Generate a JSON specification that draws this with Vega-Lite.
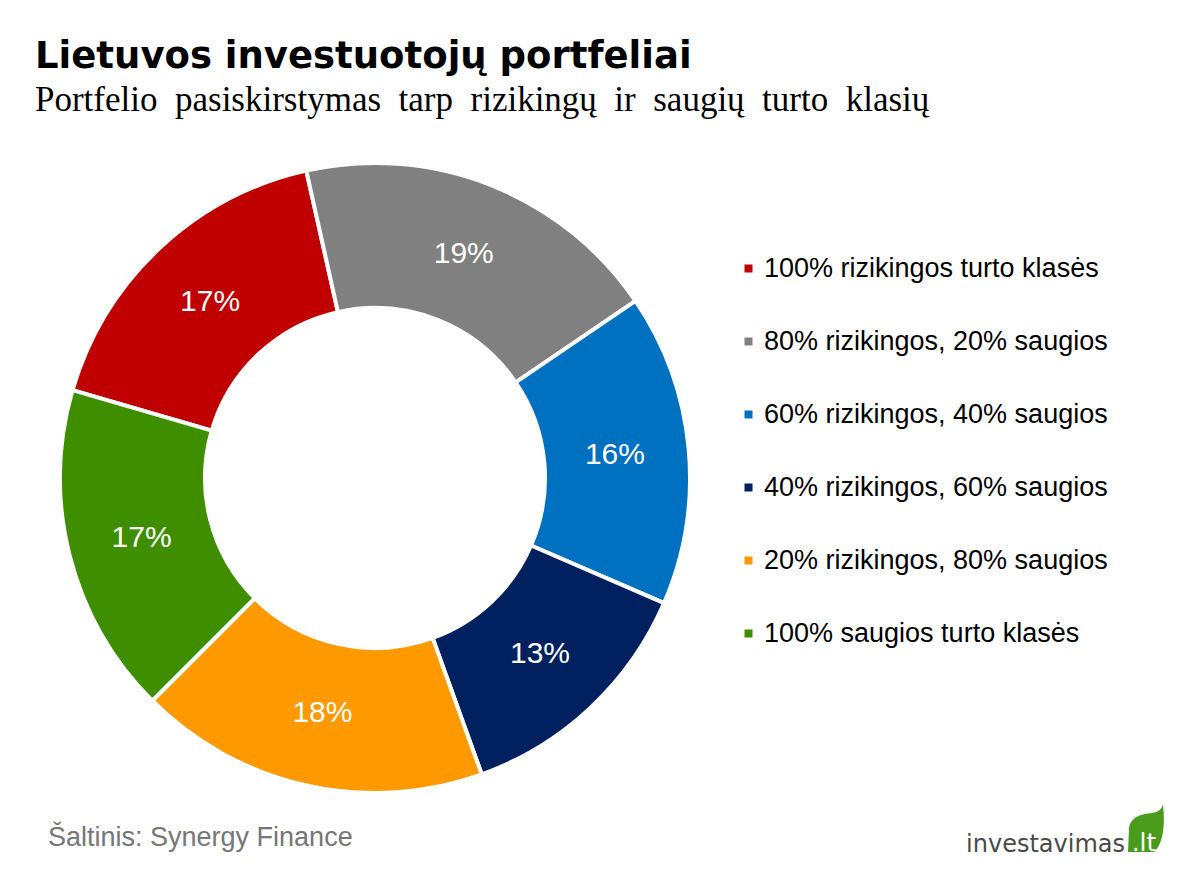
{
  "$schema": "https://vega.github.io/schema/vega-lite/v6.json",
  "width": 750,
  "height": 698,
  "padding": {"left": 0, "top": 38, "right": 0, "bottom": 0},
  "background": "white",
  "title": {
    "text": "Lietuvos investuotojų portfeliai",
    "subtitle": "Portfelio\u00a0 pasiskirstymas\u00a0 tarp\u00a0 rizikingų\u00a0 ir\u00a0 saugių\u00a0 turto\u00a0 klasių",
    "anchor": "start",
    "frame": "group",
    "dx": 35,
    "font": "DejaVu Sans",
    "fontSize": 37,
    "fontWeight": "bold",
    "color": "black",
    "subtitleFont": "Liberation Serif",
    "subtitleFontSize": 35,
    "subtitleColor": "black",
    "subtitlePadding": 7,
    "offset": 10
  },
  "config": {"view": {"stroke": null}},
  "layer": [
    {
      "data": {"values": [
        {"k": "100% rizikingos turto klasės", "v": 17, "o": 1, "lab": "17%"},
        {"k": "80% rizikingos, 20% saugios", "v": 19, "o": 2, "lab": "19%"},
        {"k": "60% rizikingos, 40% saugios", "v": 16, "o": 3, "lab": "16%"},
        {"k": "40% rizikingos, 60% saugios", "v": 13, "o": 4, "lab": "13%"},
        {"k": "20% rizikingos, 80% saugios", "v": 18, "o": 5, "lab": "18%"},
        {"k": "100% saugios turto klasės", "v": 17, "o": 6, "lab": "17%"}
      ]},
      "encoding": {
        "theta": {"field": "v", "type": "quantitative", "stack": true, "scale": {"range": [-1.288, 4.995]}},
        "order": {"field": "o", "type": "quantitative"},
        "color": {
          "field": "k", "type": "nominal",
          "scale": {
            "domain": ["100% rizikingos turto klasės", "80% rizikingos, 20% saugios", "60% rizikingos, 40% saugios", "40% rizikingos, 60% saugios", "20% rizikingos, 80% saugios", "100% saugios turto klasės"],
            "range": ["#C00000", "#808080", "#0070C0", "#002060", "#FF9900", "#3E8E00"]
          },
          "legend": {
            "title": null,
            "orient": "none",
            "legendX": 735,
            "legendY": 126,
            "symbolType": "square",
            "symbolSize": 64,
            "symbolStrokeWidth": 0,
            "labelFont": "Liberation Sans",
            "labelFontSize": 27,
            "labelColor": "black",
            "labelOffset": 2,
            "rowPadding": 45,
            "labelLimit": 500
          }
        }
      },
      "layer": [
        {
          "mark": {"type": "arc", "outerRadius": 315, "innerRadius": 170, "stroke": "white", "strokeWidth": 4}
        },
        {
          "mark": {"type": "text", "radius": 241, "font": "Liberation Sans", "fontSize": 30, "color": "white"},
          "encoding": {"text": {"field": "lab"}, "color": {"value": "white"}}
        }
      ]
    },
    {
      "data": {"values": [{"t": "Šaltinis: Synergy Finance"}]},
      "mark": {"type": "text", "x": 48, "y": 717, "align": "left", "baseline": "alphabetic", "font": "Liberation Sans", "fontSize": 27, "color": "#767676"},
      "encoding": {"text": {"field": "t"}}
    },
    {
      "data": {"values": [{"t": "investavimas"}]},
      "mark": {"type": "text", "x": 1125, "y": 723, "align": "right", "baseline": "alphabetic", "font": "DejaVu Sans", "fontSize": 24, "color": "#4a4a4a"},
      "encoding": {"text": {"field": "t"}}
    },
    {
      "data": {"values": [{"t": ".lt"}]},
      "mark": {"type": "point", "x": 1145, "y": 700, "shape": "M-0.85,1.15 L-0.8,0 C-0.75,-0.6 -0.2,-0.75 0.35,-0.8 C0.7,-0.85 0.85,-1 0.9,-1.25 C1.0,-0.3 0.95,0.7 0.45,1.15 Z", "size": 1600, "filled": true, "color": "#4A9A1C", "opacity": 1},
      "encoding": {}
    },
    {
      "data": {"values": [{"t": ".lt"}]},
      "mark": {"type": "text", "x": 1144, "y": 722, "align": "center", "baseline": "alphabetic", "font": "DejaVu Sans", "fontSize": 25, "color": "white"},
      "encoding": {"text": {"field": "t"}}
    }
  ]
}
